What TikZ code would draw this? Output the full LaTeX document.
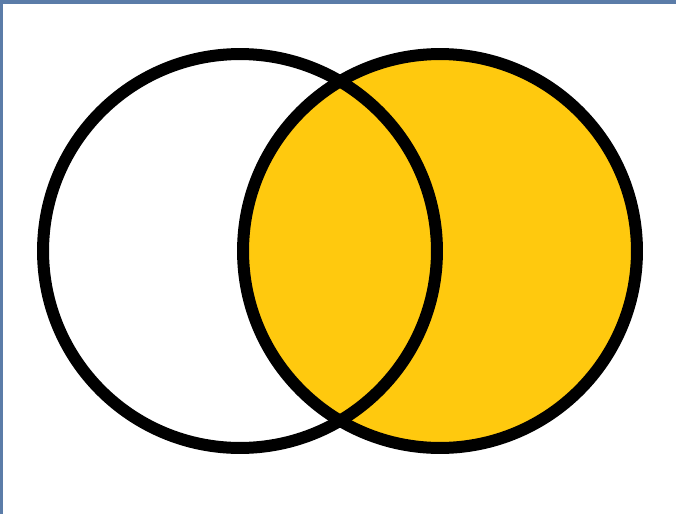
\documentclass[tikz,border=0pt]{standalone}
\usepackage{tikz}
\definecolor{mGold}{HTML}{FFC90E}
\definecolor{mFrame}{HTML}{5B7CA8}
\tikzset{
  vset/.style={draw=black, circle, line width=0.24cm, minimum size=7.88cm,
               inner sep=0pt},
  vshade/.style={vset, fill=mGold},
}

\begin{document}
\begin{tikzpicture}[x=0.02cm, y=-0.02cm]
    \useasboundingbox (0,0) rectangle (676,514);
    \fill[white] (0,0) rectangle (676,514);
    \fill[mFrame] (0,0) rectangle (676,4);
    \fill[mFrame] (0,0) rectangle (3,514);
    \node[vshade] (B) at (440,251) {};
    \node[vset] (A) at (240,251) {};
  \end{tikzpicture}
\end{document}
